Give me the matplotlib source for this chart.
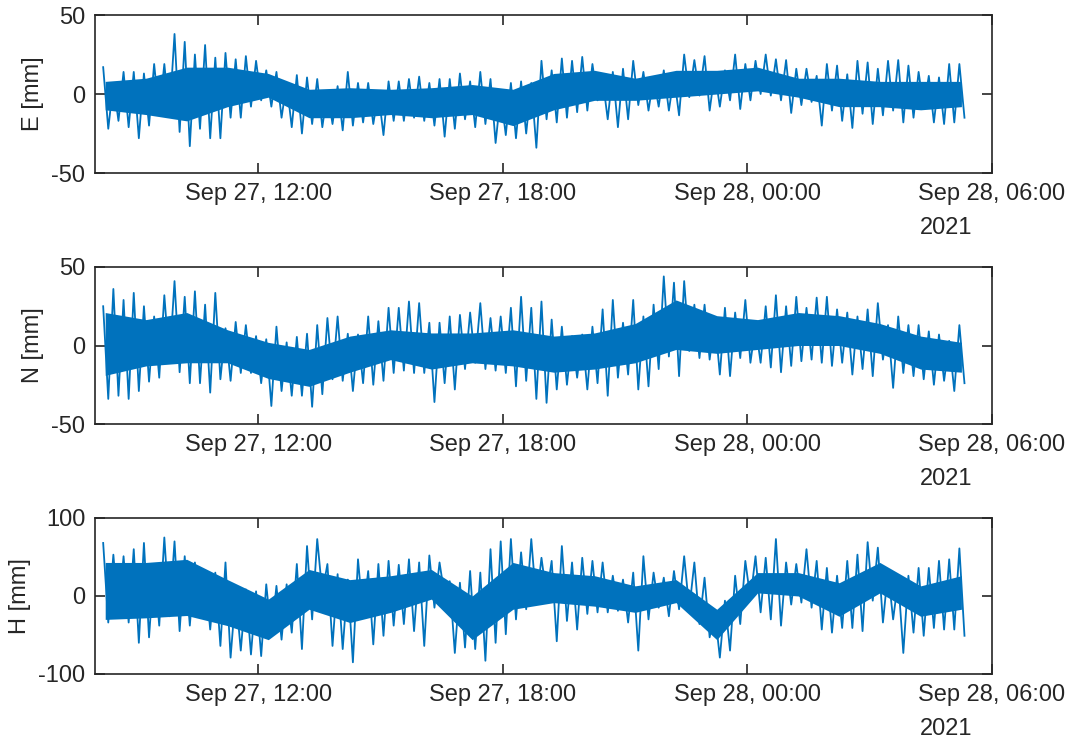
import numpy as np
import pandas as pd
import matplotlib
matplotlib.use('Agg')
import matplotlib.pyplot as plt
import matplotlib.dates as mdates

plt.rcParams['font.family'] = ['Liberation Sans', 'DejaVu Sans']
plt.rcParams['axes.unicode_minus'] = False

# spike envelope, one hi/lo pair per 15-minute window
e_hi = [17, 7, 14, 14, 13, 19, 19, 38, 33, 25,
        31, 23, 26, 22, 24, 21, 15, 14, 7, 12,
        10.5, 9.5, 2, 5, 14, 7, 7, 1, 8, 8,
        9.5, 11, 7, 9.5, 9.5, 13, 8, 14, 9.5, 0,
        7, 8, 7, 21, 15, 22.5, 21, 23.5, 19, 9.5,
        14, 16, 21, 14, 10.5, 15, 11.5, 25, 21.5, 24,
        14, 15, 25, 19, 21, 25, 22, 21.5, 16, 16,
        11.5, 19, 18, 12.5, 21, 20, 16, 21, 21.5, 18,
        14, 11.5, 10.5, 19, 19]
e_lo = [-22, -17, -21, -28, -20, -13, -14, -24, -33, -22,
        -28, -28, -15, -15, -8, -4, -8, -15, -21, -25,
        -19, -21, -19, -23, -20, -18, -19, -26, -17, -17,
        -15, -17, -20, -27, -22, -16, -21, -19, -31, -26,
        -28, -25, -34, -16, -18, -15, -11.5, -10.5, -4, -16,
        -21, -16, -7, -10.5, -8, -10.5, -13.5, -2, -1, -10.5,
        -8, -4, -9.5, -4, 0, -1, -4, -12, -7, -5,
        -20, -10.5, -17, -21.5, -12.5, -19, -13.5, -10.5, -18, -15,
        -9.5, -18, -19, -18, -15]

n_hi = [25, 36, 29, 33.5, 25, 18.5, 32, 41, 31, 34.5,
        26, 33.5, 11, 15, 13, 6, 4, 12, 2, 5.5,
        7.5, 13, 17.5, 18.5, 7.5, 7, 18.5, 15.5, 24, 24,
        28, 27, 14.5, 14.5, 18.5, 19.5, 21, 27, 17.5, 18.5,
        24, 31, 24, 28, 16.5, 12, 6, 7, 12, 23,
        29, 14.5, 29, 18.5, 26, 44, 40, 41, 26, 26,
        17.5, 24, 21, 29, 13, 25, 32, 25, 31, 24,
        30.5, 31, 23, 21, 18.5, 23, 27, 13, 18.5, 13,
        13, 9, 7, 3, 13]
n_lo = [-34, -32, -34, -29, -23, -20.5, -11, -17, -24, -24,
        -30, -21.5, -22.5, -17.5, -17.5, -24, -38.5, -29, -32, -32,
        -39, -31, -21.5, -22.5, -29, -24, -25, -22.5, -17.5, -16,
        -17.5, -17.5, -36, -24, -28, -15, -11, -15, -16, -17.5,
        -26, -22.5, -34, -36.5, -28, -25, -20.5, -28, -24, -32,
        -20.5, -18.5, -28, -26, -15, -7, -19.5, -3.5, -8, -9,
        -18.5, -19.5, -8, -11, -11, -14, -17, -13, -10, -9,
        -11, -13, -11, -18.5, -15, -19.5, -9, -27, -17.5, -19.5,
        -21.5, -25, -22.5, -29, -24]

h_hi = [68, 53, 51, 60, 68, 41, 75, 70, 51, 43,
        30, 30, 43, 4, 8.5, 6, 15, 13, 15, 41,
        64, 73, 41, 28, 21, 47, 32, 41, 45, 40,
        47, 43, 52, 43, 19, 17, 32, 30, 60, 70,
        73, 56, 73, 49, 45, 64, 43, 49, 45, 43,
        26, 21, 30, 51, 30, 23.5, 32, 51, 43, 23.5,
        -19, -6, 26, 45, 51, 49, 73, 43, 41, 60,
        45, 36, 26, 45, 53, 69, 62, 32, 21, 26,
        36, 36, 45, 47, 61]
h_lo = [-34, -26, -34, -60, -53, -38, -26, -45, -38, -21,
        -43, -64, -79, -70, -75, -77, -51, -56, -47, -68,
        -30, 4, -64, -68, -85, -26, -62, -51, -38, -36,
        -45, -64, -15, 0, -73, -66, -68, -83, -60, -49,
        -30, -17, -8.5, 0, -58, -32, -43, -23, -21, -21,
        -19, -34, -70, -30, -15, -26, -17, -17, -36, -53,
        -79, -70, -36, -4, -21, -30, -38, -11, -8.5, -15,
        -43, -47, -41, -41, -45, -6, -34, -30, -73, -47,
        -51, -41, -43, -43, -51]

# solid core of the noise band, read hourly (08:15 ... 05:15)
e_core_hi = [8, 10, 17, 17, 13, 3, 4, 3, 4, 6, 3,
             13, 15, 10, 15, 15, 17, 10, 10, 8, 8, 8]
e_core_lo = [-10, -13, -17, -8, -2, -15, -15, -13, -15, -13, -20,
             -10, -4, -4, -2, 0, 2, -2, -8, -8, -10, -8]
n_core_hi = [21, 16.5, 21, 10, 2, -2.5, 6, 10, 8, 8, 10,
             6, 8, 14, 29, 19, 16.5, 21, 19, 14, 6, 2]
n_core_lo = [-19, -13, -11, -11, -21, -26, -17, -9, -15, -11, -13,
             -17, -15, -11, -2.5, -5, -2.5, 0, 0, -5, -15, -17]
h_core_hi = [43, 43, 47, 21, -4, 34, 21, 26, 34, 0, 43,
             30, 26, 13, 21, -17, 30, 30, 17, 43, 13, 26]
h_core_lo = [-30, -28, -25, -38, -56, -17, -34, -21, -4, -56, -17,
             -8.5, -13, -21, -8.5, -56, 4, 0, -26, 4, -26, -17]

labels = ['E [mm]', 'N [mm]', 'H [mm]']
ylims = [(-50, 50), (-50, 50), (-100, 100)]
yticks = [[-50, 0, 50], [-50, 0, 50], [-100, 0, 100]]

# spike samples: hi/lo alternate every 7.5 minutes
t = pd.date_range('2021-09-27 08:12', periods=2 * len(e_hi), freq='450s')
t_core = mdates.date2num(pd.date_range('2021-09-27 08:15', periods=len(e_core_hi), freq='1h'))
xlim = (pd.Timestamp('2021-09-27 08:00'), pd.Timestamp('2021-09-28 06:00'))
xticks = pd.date_range('2021-09-27 12:00', '2021-09-28 06:00', freq='6h')

panels = [(np.column_stack([e_hi, e_lo]).ravel(), e_core_hi, e_core_lo),
          (np.column_stack([n_hi, n_lo]).ravel(), n_core_hi, n_core_lo),
          (np.column_stack([h_hi, h_lo]).ravel(), h_core_hi, h_core_lo)]

txt = '#262626'
blue = '#0072BD'
fig = plt.figure(figsize=(10.7, 7.4), dpi=100)
rects = [[0.0888, 0.7662, 0.8383, 0.2135],
         [0.0888, 0.4270, 0.8383, 0.2122],
         [0.0888, 0.0892, 0.8383, 0.2108]]

for rect, (y, c_hi, c_lo), lab, yl, yt in zip(rects, panels, labels, ylims, yticks):
    ax = fig.add_axes(rect)
    ax.fill_between(t_core, c_lo, c_hi, color=blue, lw=0)
    ax.plot(t, y, color=blue, lw=1.3)
    ax.set_xlim(xlim)
    ax.set_ylim(yl)
    ax.set_yticks(yt)
    ax.set_xticks(xticks)
    ax.xaxis.set_major_formatter(mdates.DateFormatter('%b %d, %H:%M'))
    ax.tick_params(direction='in', length=7, width=1.2, colors=txt,
                   labelsize=17, top=True, right=True, pad=7)
    for s in ax.spines.values():
        s.set_linewidth(1.2)
        s.set_color(txt)
    ax.set_ylabel(lab, fontsize=17, color=txt, labelpad=5)
    ax.annotate('2021', xy=(1, 0), xycoords='axes fraction',
                xytext=(-52, -32), textcoords='offset points',
                ha='left', va='top', fontsize=17, color=txt)

fig.savefig('out.png', dpi=100)
